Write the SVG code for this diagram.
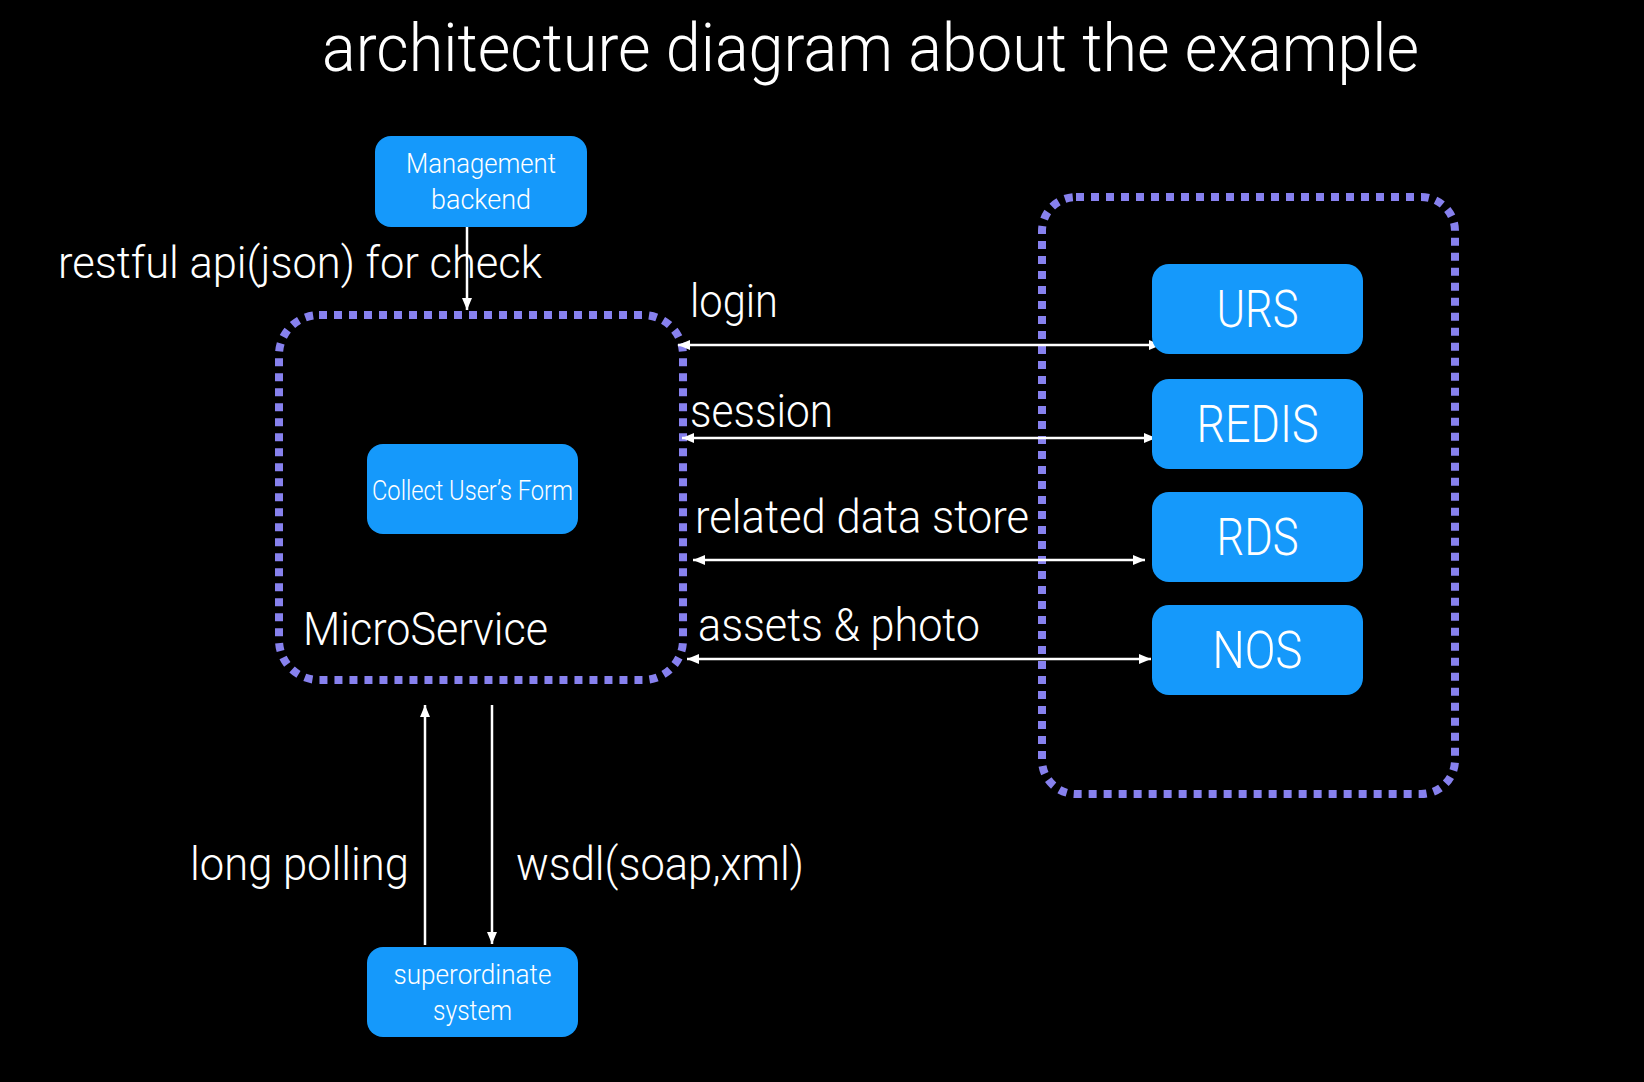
<svg xmlns="http://www.w3.org/2000/svg" width="1644" height="1082" viewBox="0 0 1644 1082">
<defs>
<style>
text{font-family:Roboto,"Liberation Sans",sans-serif;font-weight:300;fill:#ffffff}
.box{fill:#1599FB}
.group{fill:none;stroke:#8781EE;stroke-width:8;stroke-dasharray:8 7}
.conn{stroke:#ffffff;stroke-width:2.5;fill:none}
.lbl{font-size:47px}
.svc{font-size:51px;text-anchor:middle}
.sm{font-size:27px;text-anchor:middle}
</style>
<marker id="ah" viewBox="0 0 12 10" markerWidth="12" markerHeight="10" refX="12" refY="5" orient="auto-start-reverse" markerUnits="userSpaceOnUse">
<path d="M0,0 L12,5 L0,10 z" fill="#ffffff"/>
</marker>
</defs>
<rect width="1644" height="1082" fill="#000000"/>
<text x="322" y="71" font-size="67" textLength="1097" lengthAdjust="spacingAndGlyphs">architecture diagram about the example</text>

<g id="group-microservice">
<rect class="group" x="279" y="315" width="404" height="365" rx="40"/>
<text class="lbl" x="303" y="645" textLength="245" lengthAdjust="spacingAndGlyphs">MicroService</text>
</g>
<g id="group-storage">
<rect class="group" x="1042" y="197" width="413" height="597" rx="34"/>
</g>

<g id="connectors">
<line class="conn" x1="467" y1="224" x2="467" y2="310" marker-end="url(#ah)"/>
<line class="conn" x1="678" y1="345" x2="1161" y2="345" marker-start="url(#ah)" marker-end="url(#ah)"/>
<line class="conn" x1="682" y1="438" x2="1156" y2="438" marker-start="url(#ah)" marker-end="url(#ah)"/>
<line class="conn" x1="693" y1="560" x2="1145" y2="560" marker-start="url(#ah)" marker-end="url(#ah)"/>
<line class="conn" x1="687" y1="659" x2="1151" y2="659" marker-start="url(#ah)" marker-end="url(#ah)"/>
<line class="conn" x1="425" y1="945" x2="425" y2="705" marker-end="url(#ah)"/>
<line class="conn" x1="492" y1="705" x2="492" y2="944" marker-end="url(#ah)"/>
<text x="58" y="278" font-size="44" textLength="484" lengthAdjust="spacingAndGlyphs">restful api(json) for check</text>
<text class="lbl" x="690" y="317" textLength="88" lengthAdjust="spacingAndGlyphs">login</text>
<text class="lbl" x="690" y="427" textLength="143" lengthAdjust="spacingAndGlyphs">session</text>
<text class="lbl" x="695" y="533" textLength="334" lengthAdjust="spacingAndGlyphs">related data store</text>
<text class="lbl" x="698" y="641" textLength="282" lengthAdjust="spacingAndGlyphs">assets &amp; photo</text>
<text class="lbl" x="190" y="880" textLength="219" lengthAdjust="spacingAndGlyphs">long polling</text>
<text class="lbl" x="516" y="880" textLength="288" lengthAdjust="spacingAndGlyphs">wsdl(soap,xml)</text>
</g>

<g id="node-management">
<rect class="box" x="375" y="136" width="212" height="91" rx="16"/>
<text class="sm" x="481" y="173" textLength="150" lengthAdjust="spacingAndGlyphs">Management</text>
<text class="sm" x="481" y="209" textLength="100" lengthAdjust="spacingAndGlyphs">backend</text>
</g>
<g id="node-collect">
<rect class="box" x="367" y="444" width="211" height="90" rx="16"/>
<text class="sm" x="472.5" y="500" font-size="31" textLength="201" lengthAdjust="spacingAndGlyphs">Collect User’s Form</text>
</g>
<g id="node-superordinate">
<rect class="box" x="367" y="947" width="211" height="90" rx="16"/>
<text class="sm" x="472.5" y="984" textLength="158" lengthAdjust="spacingAndGlyphs">superordinate</text>
<text class="sm" x="472.5" y="1020" textLength="79" lengthAdjust="spacingAndGlyphs">system</text>
</g>
<g id="node-urs">
<rect class="box" x="1152" y="264" width="211" height="90" rx="17"/>
<text class="svc" x="1257.5" y="327" textLength="82" lengthAdjust="spacingAndGlyphs">URS</text>
</g>
<g id="node-redis">
<rect class="box" x="1152" y="379" width="211" height="90" rx="17"/>
<text class="svc" x="1257.5" y="442" textLength="122" lengthAdjust="spacingAndGlyphs">REDIS</text>
</g>
<g id="node-rds">
<rect class="box" x="1152" y="492" width="211" height="90" rx="17"/>
<text class="svc" x="1257.5" y="555" textLength="82" lengthAdjust="spacingAndGlyphs">RDS</text>
</g>
<g id="node-nos">
<rect class="box" x="1152" y="605" width="211" height="90" rx="17"/>
<text class="svc" x="1257.5" y="668" textLength="90" lengthAdjust="spacingAndGlyphs">NOS</text>
</g>
</svg>
